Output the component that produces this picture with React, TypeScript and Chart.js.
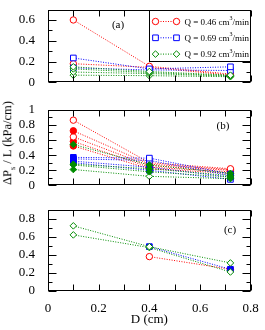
import React, { useEffect, useRef } from 'react';
import { Chart, registerables } from 'chart.js';
Chart.register(...registerables);

// ---------- data ----------
const D = [0.1, 0.4, 0.72];
const Q_LABELS = ['0.46', '0.69', '0.92'];

// panel (a)
const redA1 = [0.6, 0.155, 0.08];
const redA2 = [0.18, 0.145, 0.07];
const blueA1 = [0.235, 0.13, 0.15];
const blueA2 = [0.14, 0.12, 0.115];
const greenA1 = [0.15, 0.105, 0.07];
const greenA2 = [0.13, 0.095, 0.065];
const greenA3 = [0.1, 0.085, 0.06];
const greenA4 = [0.07, 0.065, 0.055];

// panel (b)
const redB1 = [0.86, 0.3, 0.22];
const redB2 = [0.72, 0.28, 0.21];
const redB3 = [0.64, 0.26, 0.2];
const redB4 = [0.58, 0.24, 0.18];
const redB5 = [0.52, 0.22, 0.16];
const blueB1 = [0.37, 0.36, 0.15];
const blueB2 = [0.35, 0.33, 0.13];
const blueB3 = [0.32, 0.24, 0.11];
const blueB4 = [0.3, 0.2, 0.08];
const greenB1 = [0.54, 0.27, 0.16];
const greenB2 = [0.28, 0.22, 0.13];
const greenB3 = [0.27, 0.18, 0.11];
const greenB4 = [0.21, 0.12, 0.09];

// panel (c)
const redC = [null, 0.38, 0.24];
const blueC = [null, 0.49, 0.24];
const greenC1 = [0.72, 0.49, 0.31];
const greenC2 = [0.62, 0.48, 0.21];

// ---------- styles ----------
const RED = '#ff0000';
const BLUE = '#0000ff';
const GREEN = '#008c00';
const FONT = '"Liberation Serif", "Times New Roman", serif';
const STYLE = {
  red: { color: RED, shape: 'circle', r: 3.2 },
  blue: { color: BLUE, shape: 'rect', r: 4 },
  green: { color: GREEN, shape: 'rectRot', r: 3.3 },
};

function ds(values: (number | null)[], kind: 'red' | 'blue' | 'green', filled: boolean | boolean[]) {
  const st = STYLE[kind];
  const pts: any[] = [];
  const fills: string[] = [];
  values.forEach((v, i) => {
    if (v === null) return;
    pts.push({ x: D[i], y: v });
    const f = Array.isArray(filled) ? filled[i] : filled;
    fills.push(f ? st.color : '#ffffff');
  });
  return {
    data: pts,
    borderColor: st.color,
    borderWidth: 1,
    borderDash: [1, 1.5],
    pointStyle: st.shape,
    pointRadius: st.r,
    pointBorderColor: st.color,
    pointBorderWidth: 1,
    pointBackgroundColor: fills,
    fill: false,
    tension: 0,
  };
}

const framePlugin = {
  id: 'frame',
  afterDraw(chart: any) {
    const { ctx, chartArea, scales } = chart;
    const { left, right, top, bottom } = chartArea;
    const xs = scales.x, ys = scales.y;
    ctx.save();
    ctx.strokeStyle = '#000';
    ctx.lineWidth = 1;
    const L = Math.round(left) + 0.5, R = Math.round(right) - 0.5;
    const T = Math.round(top) + 0.5, B = Math.round(bottom) - 0.5;
    ctx.beginPath();
    for (let i = 0; i <= 8; i++) {
      const px = Math.round(xs.getPixelForValue(i / 10)) + 0.5;
      ctx.moveTo(px, B); ctx.lineTo(px, B - 6);
      ctx.moveTo(px, T); ctx.lineTo(px, T + 6);
    }
    const n = Math.round(ys.max * 10);
    for (let i = 0; i <= n; i++) {
      const py = Math.round(ys.getPixelForValue(i / 10)) + 0.5;
      const len = i % 2 === 0 ? 8 : 4;
      ctx.moveTo(L, py); ctx.lineTo(L + len, py);
      ctx.moveTo(R, py); ctx.lineTo(R - len, py);
    }
    ctx.stroke();
    ctx.strokeRect(L, T, R - L, B - T);
    const pl = chart.options.plugins.panelLabel;
    if (pl) {
      ctx.fillStyle = '#000';
      ctx.font = '11px ' + FONT;
      ctx.textAlign = 'center';
      ctx.textBaseline = 'middle';
      ctx.fillText(pl.text, pl.x, pl.y);
    }
    ctx.restore();
  },
};

function drawMarker(ctx: any, shape: string, x: number, y: number, r: number) {
  ctx.beginPath();
  if (shape === 'circle') ctx.arc(x, y, r, 0, Math.PI * 2);
  else if (shape === 'rect') { const s = r * Math.SQRT1_2; ctx.rect(x - s, y - s, 2 * s, 2 * s); }
  else { ctx.moveTo(x - r, y); ctx.lineTo(x, y - r); ctx.lineTo(x + r, y); ctx.lineTo(x, y + r); ctx.closePath(); }
  ctx.fillStyle = '#fff';
  ctx.fill();
  ctx.stroke();
}

const legendPlugin = {
  id: 'qlegend',
  afterDraw(chart: any) {
    const { ctx, chartArea } = chart;
    const right = Math.round(chartArea.right);
    const bx = 149.5, by = Math.round(chartArea.top) + 0.5, bw = right - 0.5 - bx, bh = 51;
    ctx.save();
    ctx.fillStyle = '#fff';
    ctx.fillRect(bx, by, bw, bh);
    ctx.strokeStyle = '#000';
    ctx.lineWidth = 1;
    ctx.strokeRect(bx, by, bw, bh);
    const kinds: ('red' | 'blue' | 'green')[] = ['red', 'blue', 'green'];
    kinds.forEach((k, i) => {
      const st = STYLE[k];
      const y = by + 11 + i * 16.3;
      const x1 = bx + 6, x2 = bx + 27;
      ctx.strokeStyle = st.color;
      ctx.setLineDash([1, 1.5]);
      ctx.beginPath(); ctx.moveTo(x1, y); ctx.lineTo(x2, y); ctx.stroke();
      ctx.setLineDash([]);
      drawMarker(ctx, st.shape, x1, y, st.r);
      drawMarker(ctx, st.shape, x2, y, st.r);
      ctx.fillStyle = '#000';
      ctx.textBaseline = 'middle';
      ctx.textAlign = 'left';
      ctx.font = '9px ' + FONT;
      let tx = bx + 35;
      const t1 = 'Q = ' + Q_LABELS[i] + ' cm';
      ctx.fillText(t1, tx, y + 1);
      tx += ctx.measureText(t1).width;
      ctx.font = '6px ' + FONT;
      ctx.fillText('3', tx, y - 3);
      tx += ctx.measureText('3').width;
      ctx.font = '9px ' + FONT;
      ctx.fillText('/min', tx, y + 1);
    });
    ctx.restore();
  },
};

function makeConfig(datasets: any[], ymax: number, padding: any, label: any, showX: boolean, extra: any[] = []) {
  const xScale: any = {
    type: 'linear',
    min: 0,
    max: 0.8,
    display: showX,
    grid: { display: false },
    border: { display: false },
    ticks: {
      stepSize: 0.1,
      padding: 3,
      color: '#000',
      font: { family: FONT, size: 13, lineHeight: 1 },
      maxRotation: 0,
      autoSkip: false,
      callback: (v: any) => (Math.round(v * 10) % 2 === 0 ? String(Number(Number(v).toFixed(1))) : ''),
    },
    title: {
      display: showX,
      text: 'D (cm)',
      color: '#000',
      font: { family: FONT, size: 13, lineHeight: 1 },
      padding: { top: 0, bottom: 4 },
    },
  };
  if (showX) xScale.afterFit = (s: any) => { s.height = 39; };
  return {
    type: 'line',
    data: { datasets },
    plugins: [framePlugin, ...extra],
    options: {
      animation: false,
      responsive: false,
      maintainAspectRatio: false,
      layout: { padding },
      plugins: { legend: { display: false }, tooltip: { enabled: false }, panelLabel: label },
      scales: {
        x: xScale,
        y: {
          type: 'linear',
          min: 0,
          max: ymax,
          grid: { display: false },
          border: { display: false },
          afterFit: (s: any) => { s.width = 48; },
          ticks: {
            stepSize: 0.1,
            padding: 5,
            color: '#000',
            font: { family: FONT, size: 13, lineHeight: 0.7 },
            autoSkip: false,
            callback: (v: any) => (Math.round(v * 10) % 2 === 0 ? String(Number(Number(v).toFixed(1))) : ''),
          },
        },
      },
    },
  };
}

export default function App() {
  const refA = useRef<HTMLCanvasElement>(null);
  const refB = useRef<HTMLCanvasElement>(null);
  const refC = useRef<HTMLCanvasElement>(null);

  useEffect(() => {
    const dsA = [
      ds(greenA1, 'green', false), ds(greenA2, 'green', false), ds(greenA3, 'green', false), ds(greenA4, 'green', false),
      ds(blueA1, 'blue', false), ds(blueA2, 'blue', false),
      ds(redA1, 'red', false), ds(redA2, 'red', false),
    ];
    const dsB = [
      ds(greenB1, 'green', true), ds(greenB2, 'green', true), ds(greenB3, 'green', true), ds(greenB4, 'green', [true, false, true]),
      ds(blueB1, 'blue', [true, false, true]), ds(blueB2, 'blue', [true, false, true]), ds(blueB3, 'blue', true), ds(blueB4, 'blue', [true, true, false]),
      ds(redB1, 'red', false), ds(redB2, 'red', true), ds(redB3, 'red', false), ds(redB4, 'red', true), ds(redB5, 'red', true),
    ];
    const dsC = [
      ds(greenC1, 'green', false), ds(greenC2, 'green', false),
      ds(blueC, 'blue', true),
      ds(redC, 'red', [false, false, true]),
    ];
    const charts = [
      new Chart(refA.current as any, makeConfig(dsA, 0.7, { top: 5, bottom: 5, left: 0, right: 14.3 }, { text: '(a)', x: 118, y: 25 }, false, [legendPlugin]) as any),
      new Chart(refB.current as any, makeConfig(dsB, 1, { top: 6.7, bottom: 5.7, left: 0, right: 14.3 }, { text: '(b)', x: 223, y: 26 }, false) as any),
      new Chart(refC.current as any, makeConfig(dsC, 0.9, { top: 9, bottom: 0, left: 0, right: 14.3 }, { text: '(c)', x: 230, y: 30 }, true) as any),
    ];
    return () => charts.forEach((c) => c.destroy());
  }, []);

  const cs = (top: number, h: number): React.CSSProperties => ({ position: 'absolute', left: 0, top, width: 265, height: h });

  return (
    <div style={{ position: 'fixed', left: 0, top: 0, width: 265, height: 330, background: '#fff', fontFamily: FONT }}>
      <canvas ref={refA} width={265} height={92} style={cs(0, 92)} />
      <canvas ref={refB} width={265} height={95} style={cs(100, 95)} />
      <canvas ref={refC} width={265} height={130} style={cs(200, 130)} />
      <div
        style={{
          position: 'absolute',
          left: 9,
          top: 143,
          transform: 'translate(-50%, -50%) rotate(-90deg)',
          whiteSpace: 'nowrap',
          fontSize: 12.5,
          color: '#000',
          lineHeight: 1,
        }}
      >
        ΔP<sub style={{ fontSize: 8, verticalAlign: 'sub' }}>s</sub> / L (kPa/cm)
      </div>
    </div>
  );
}
